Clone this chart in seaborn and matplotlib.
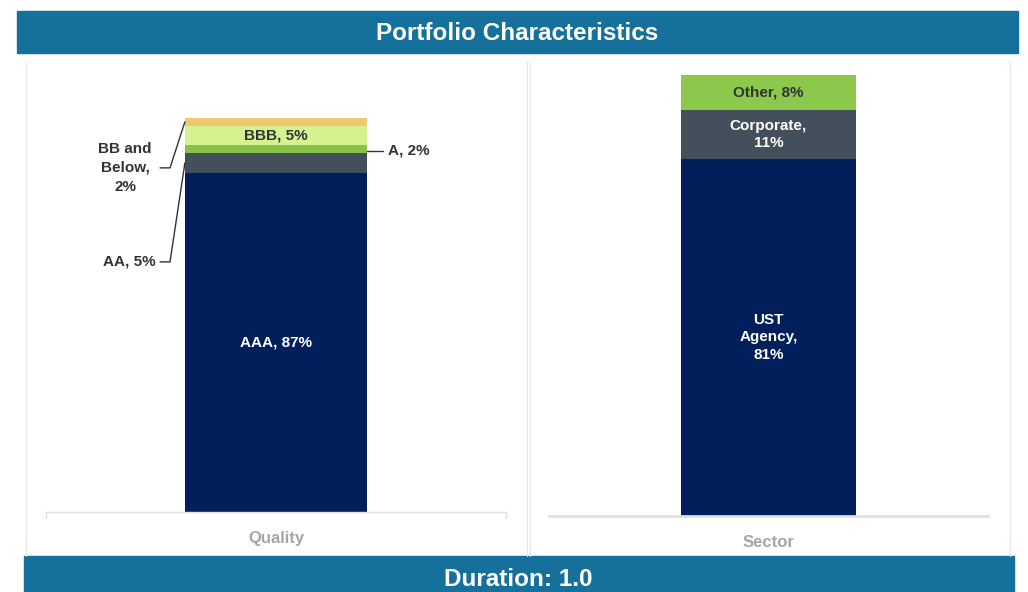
import matplotlib
matplotlib.use("Agg")
import matplotlib.pyplot as plt
import seaborn as sns
from matplotlib.patches import Rectangle
from matplotlib.lines import Line2D

# data
quality_labels = ["AAA", "AA", "A", "BBB", "BB and\nBelow"]
quality_values = [87, 5, 2, 5, 2]
quality_colors = ["#001f5b", "#434f5b", "#8bc34a", "#d4f28f", "#f0c870"]

sector_labels = ["UST\nAgency", "Corporate", "Other"]
sector_values = [81, 11, 8]
sector_colors = ["#001f5b", "#434f5b", "#8bc84b"]

title = "Portfolio Characteristics"
footer = "Duration: 1.0"

sns.set_theme(style="white")
plt.rcParams["font.family"] = ["Liberation Sans", "DejaVu Sans"]
W, H = 1028, 592
fig = plt.figure(figsize=(W / 100, H / 100), dpi=100)


def fx(px):
    return px / W


def fy(py):
    return 1 - py / H


# panel frames
for x in [26, 527, 530, 1010]:
    fig.add_artist(Line2D([fx(x), fx(x)], [fy(556), fy(62)], color="#e6e6e6", lw=0.8))

# banners
blue = "#16709c"
fig.add_artist(Rectangle((fx(17), fy(53)), fx(1001), 42 / H, color=blue, transform=fig.transFigure))
fig.text(0.503, fy(33), title, color="white", fontsize=17.5, fontweight="bold",
         ha="center", va="center")
fig.add_artist(Rectangle((fx(24), fy(600)), fx(990), 44 / H, color=blue, transform=fig.transFigure))
fig.text(0.504, fy(580), footer, color="white", fontsize=17.5, fontweight="bold",
         ha="center", va="center")


def stacked(ax, cat, values, colors, width):
    cum = []
    total = 0
    for v in values:
        total += v
        cum.append(total)
    # draw from the tallest cumulative bar down so lower layers sit on top
    for c, col in reversed(list(zip(cum, colors))):
        sns.barplot(x=[cat], y=[c], color=col, width=width, ax=ax, saturation=1, linewidth=0)
    mids = [c - v / 2 for c, v in zip(cum, values)]
    return mids


lab = dict(fontsize=11, fontweight="bold", ha="center", va="center", linespacing=1.35)
dark = "#333333"

# left: quality
ax1 = fig.add_axes([fx(46), 80 / H, fx(460), 437 / H])
mids = stacked(ax1, "Quality", quality_values, quality_colors, 0.396)
ax1.set_ylim(0, 112)
ax1.set_xlim(-0.5, 0.5)
ax1.text(0, mids[0], f"{quality_labels[0]}, {quality_values[0]}%", color="white", **lab)
ax1.text(0, mids[3], f"{quality_labels[3]}, {quality_values[3]}%", color=dark, **lab)
# leader lines for small slices
edge = 0.198
ax1.plot([-0.252, -0.2304, -edge], [88.2, 88.2, mids[4]], color=dark, lw=1, clip_on=False)
ax1.text(-0.328, 88.2, f"{quality_labels[4]},\n{quality_values[4]}%", color=dark,
         **{**lab, "linespacing": 1.45})
ax1.plot([-0.252, -0.2304, -edge], [64.1, 64.1, mids[1]], color=dark, lw=1, clip_on=False)
ax1.text(-0.261, 64.1, f"{quality_labels[1]}, {quality_values[1]}%", color=dark,
         **{**lab, "ha": "right"})
ax1.plot([edge, 0.2326], [92.6, 92.6], color=dark, lw=1, clip_on=False)
ax1.text(0.2435, 92.6, f"{quality_labels[2]}, {quality_values[2]}%", color=dark,
         **{**lab, "ha": "left"})

# right: sector
ax2 = fig.add_axes([fx(549), 76 / H, fx(439), 441 / H])
mids2 = stacked(ax2, "Sector", sector_values, sector_colors, 0.4)
ax2.set_ylim(0, 100)
ax2.set_xlim(-0.5, 0.5)
ax2.text(0, mids2[0], f"{sector_labels[0]},\n{sector_values[0]}%", color="white", **lab)
ax2.text(0, mids2[1], f"{sector_labels[1]},\n{sector_values[1]}%", color="white", **lab)
ax2.text(0, mids2[2], f"{sector_labels[2]}, {sector_values[2]}%", color=dark, **lab)

for ax, lw in [(ax1, 1.0), (ax2, 2.0)]:
    ax.set_xlabel("")
    ax.set_ylabel("")
    ax.set_yticks([])
    for s in ["top", "right", "left"]:
        ax.spines[s].set_visible(False)
    ax.spines["bottom"].set_color("#e0e0e0")
    ax.spines["bottom"].set_linewidth(lw)
    ax.tick_params(axis="x", length=0, pad=14, labelsize=12, labelcolor="#a6a6a6")
    for t in ax.get_xticklabels():
        t.set_fontweight("bold")
    ax.patch.set_alpha(0)

# little end ticks on the left baseline
for x in [fx(46), fx(506)]:
    fig.add_artist(Line2D([x, x], [fy(512), fy(518)], color="#e0e0e0", lw=1))

fig.savefig("out.png", dpi=100)
